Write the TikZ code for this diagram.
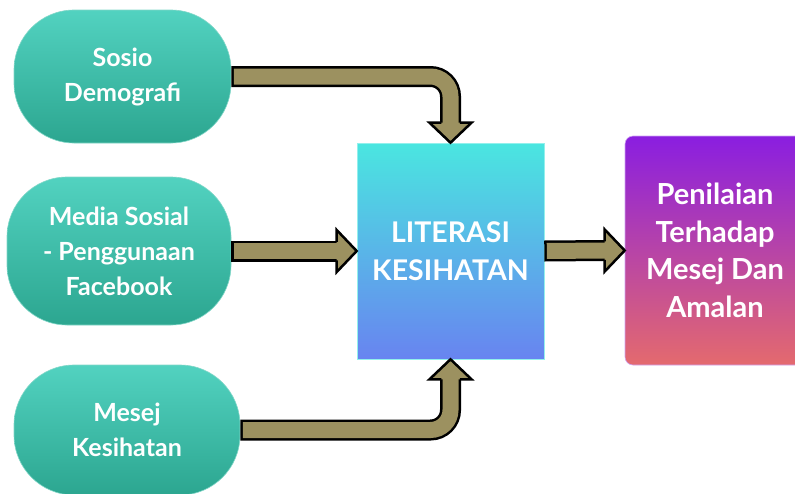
\documentclass[tikz,border=0pt]{standalone}
\usepackage{fontspec}
\setmainfont{Lato}
\usetikzlibrary{calc}
\definecolor{olivefill}{RGB}{156,145,96}
\definecolor{tealtop}{RGB}{82,210,192}
\definecolor{tealbot}{RGB}{44,166,144}
\definecolor{tealline}{RGB}{130,215,200}
\definecolor{cyantop}{RGB}{74,230,224}
\definecolor{bluebot}{RGB}{104,132,240}
\definecolor{purpletop}{RGB}{138,30,224}
\definecolor{salmonbot}{RGB}{228,106,110}
\newcommand\fathead[2]{%
  \draw[head, shift={#1}, rotate=#2]
    (-20,-9.25) -- (-20,-21) -- (0,0) -- (-20,21) -- (-20,9.25);
}

\begin{document}
\begin{tikzpicture}[x=1pt, y=-1pt,
    pill/.style={draw=tealline, line width=0.6pt, rounded corners=60pt,
      top color=tealtop, bottom color=tealbot, text=white, align=center,
      font=\bfseries\fontsize{25}{35}\selectfont},
    shaft/.style={draw=black, line width=21pt, rounded corners=20pt,
      postaction={draw=olivefill, line width=16pt, shorten <=2.5pt}},
    head/.style={draw=black, fill=olivefill, line width=2.5pt, line join=miter}]
  \useasboundingbox (0,0) rectangle (795,493);
  \clip (0,0) rectangle (795,493);

  % left factors
  \node[pill, minimum width=217pt, minimum height=133pt] (sosio) at (122.5,76.5) {Sosio\\Demografi};
  \node[pill, minimum width=224pt, minimum height=148pt] (media) at (119,251) {Media Sosial\\- Penggunaan\\Facebook};
  \node[pill, minimum width=226pt, minimum height=130pt] (mesej) at (127,430) {Mesej\\Kesihatan};

  % centre and outcome
  \node[draw=cyantop!60!white, line width=0.6pt, top color=cyantop, bottom color=bluebot,
    minimum width=187pt, minimum height=216pt, text=white, align=center,
    font=\bfseries\fontsize{28.5}{38}\selectfont] (literasi) at (450.5,251) {LITERASI\\KESIHATAN};
  \node[draw=purpletop!40!white, line width=0.6pt, rounded corners=8pt, top color=purpletop,
    bottom color=salmonbot, minimum width=180pt, minimum height=229pt, text=white, align=center,
    font=\bfseries\fontsize{29}{37.5}\selectfont] (penilaian) at (715,250.5)
    {Penilaian\\Terhadap\\Mesej Dan\\Amalan};

  % fat arrows
  \draw[shaft] (sosio.east) -| ($(literasi.north)+(0,-19)$);
  \draw[shaft] (media.east) -- ($(literasi.west)+(-19,0)$);
  \draw[shaft] (mesej.east) -| ($(literasi.south)+(0,19)$);
  \draw[shaft] (literasi.east) -- ($(penilaian.west)+(-19,0)$);
  \fathead{(literasi.north)}{-90}
  \fathead{(literasi.west)}{0}
  \fathead{(literasi.south)}{90}
  \fathead{(penilaian.west)}{0}
\end{tikzpicture}
\end{document}
